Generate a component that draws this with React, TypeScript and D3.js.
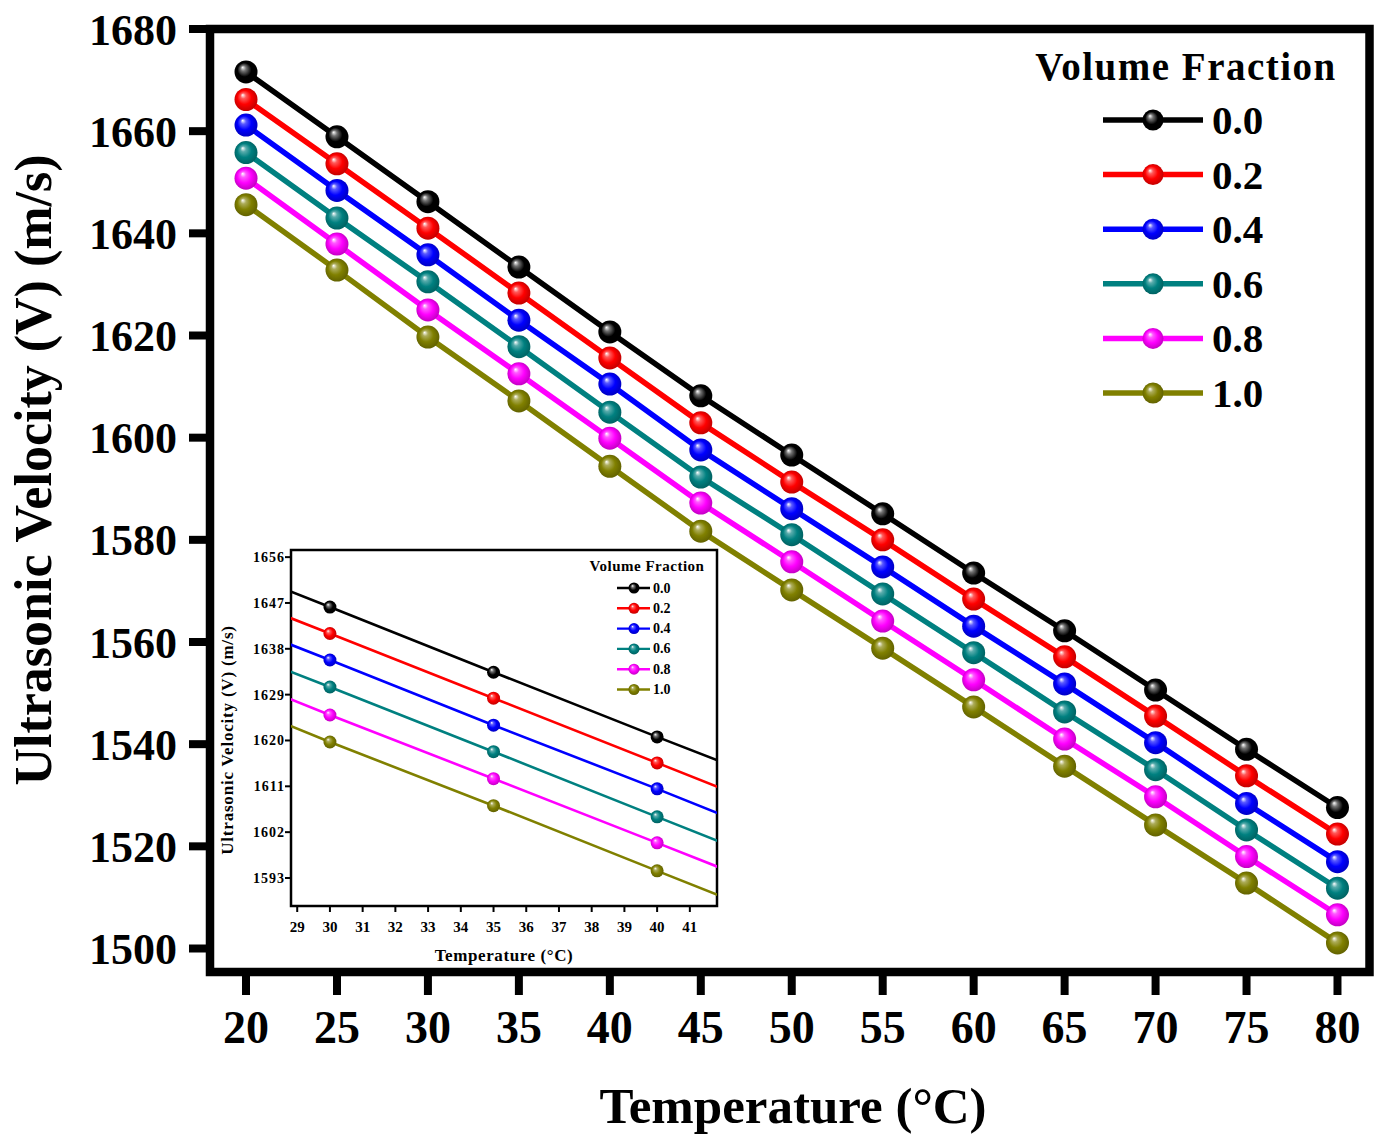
import React from "react";
import * as d3 from "d3";

const temperatures = [20, 25, 30, 35, 40, 45, 50, 55, 60, 65, 70, 75, 80];
const fractionLabels = ["0.0", "0.2", "0.4", "0.6", "0.8", "1.0"];
const seriesColors = ["#000000", "#ff0000", "#0000ff", "#008080", "#ff00ff", "#808000"];

const v00 = [1671.6, 1658.9, 1646.2, 1633.4, 1620.7, 1608.2, 1596.6, 1585.1, 1573.5, 1562.2, 1550.6, 1539.0, 1527.6];
const v02 = [1666.2, 1653.6, 1641.0, 1628.3, 1615.6, 1602.9, 1591.3, 1580.0, 1568.4, 1557.1, 1545.5, 1533.8, 1522.4];
const v04 = [1661.2, 1648.4, 1635.8, 1623.0, 1610.5, 1597.6, 1586.1, 1574.7, 1563.1, 1551.8, 1540.3, 1528.4, 1517.0];
const v06 = [1655.8, 1643.0, 1630.5, 1617.8, 1605.0, 1592.3, 1581.0, 1569.4, 1557.9, 1546.3, 1535.0, 1523.2, 1511.8];
const v08 = [1650.8, 1637.9, 1625.0, 1612.5, 1599.9, 1587.2, 1575.7, 1564.1, 1552.6, 1541.0, 1529.7, 1518.0, 1506.6];
const v10 = [1645.6, 1632.8, 1619.7, 1607.2, 1594.4, 1581.7, 1570.2, 1558.8, 1547.3, 1535.7, 1524.2, 1512.8, 1501.1];
const seriesValues = [v00, v02, v04, v06, v08, v10];

const xTicks = [20, 25, 30, 35, 40, 45, 50, 55, 60, 65, 70, 75, 80];
const yTicks = [1500, 1520, 1540, 1560, 1580, 1600, 1620, 1640, 1660, 1680];
const insetXTicks = [29, 30, 31, 32, 33, 34, 35, 36, 37, 38, 39, 40, 41];
const insetYTicks = [1593, 1602, 1611, 1620, 1629, 1638, 1647, 1656];

const FONT = "'Liberation Serif', 'Times New Roman', serif";

export default function App() {
  // main plot
  const left = 210, right = 1369.5, top = 29, bottom = 972;
  const x = d3.scaleLinear().domain([18.02, 81.76]).range([left, right]);
  const y = d3.scaleLinear().domain([1495.4, 1680]).range([bottom, top]);

  // inset
  const iL = 291, iR = 717, iT = 550, iB = 906;
  const ix = d3.scaleLinear().domain([28.81, 41.83]).range([iL, iR]);
  const iy = d3.scaleLinear().domain([1587.5, 1657.4]).range([iB, iT]);

  const data = seriesValues.map((vals) => temperatures.map((t, i) => ({ t, v: vals[i] })));
  const line = d3.line<{ t: number; v: number }>().x((d) => x(d.t)).y((d) => y(d.v));
  const iline = d3.line<{ t: number; v: number }>().x((d) => ix(d.t)).y((d) => iy(d.v));
  const [ixMin, ixMax] = ix.domain();

  const legendRowY = (i: number) => 120 + i * 54.6;
  const iLegendRowY = (i: number) => 588 + i * 20.3;

  return (
    <svg
      width={1377}
      height={1136}
      style={{ position: "absolute", left: 0, top: 0, background: "#fff" }}
      fontFamily={FONT}
    >
      <defs>
        {seriesColors.map((c, i) => (
          <radialGradient key={i} id={`ball${i}`} cx="50%" cy="50%" r="55%" fx="35%" fy="30%">
            <stop offset="0%" stopColor="#ffffff" />
            <stop offset="22%" stopColor={d3.interpolateRgb(c, "#ffffff")(i === 0 ? 0.45 : 0.35) as string} />
            <stop offset="55%" stopColor={c} />
            <stop offset="100%" stopColor={d3.color(c)!.darker(i === 0 ? 0 : 0.9).toString()} />
          </radialGradient>
        ))}
        <clipPath id="mainClip">
          <rect x={left} y={top} width={right - left} height={bottom - top} />
        </clipPath>
        <clipPath id="insetClip">
          <rect x={iL} y={iT} width={iR - iL} height={iB - iT} />
        </clipPath>
      </defs>
      <rect x={0} y={0} width={1377} height={1136} fill="#fff" />

      {/* main series */}
      <g clipPath="url(#mainClip)">
        {data.map((d, i) => (
          <path key={i} d={line(d) || ""} fill="none" stroke={seriesColors[i]} strokeWidth={5.5} />
        ))}
        {data.map((d, i) =>
          d.map((p, j) => (
            <circle key={`${i}-${j}`} cx={x(p.t)} cy={y(p.v)} r={11.5} fill={`url(#ball${i})`} />
          ))
        )}
      </g>

      {/* main legend */}
      <text x={1186} y={80} textAnchor="middle" fontSize={39} fontWeight="bold" letterSpacing={1.5}>
        Volume Fraction
      </text>
      {fractionLabels.map((lab, i) => (
        <g key={lab}>
          <line x1={1103} x2={1203} y1={legendRowY(i)} y2={legendRowY(i)} stroke={seriesColors[i]} strokeWidth={5.5} />
          <circle cx={1153} cy={legendRowY(i)} r={10.5} fill={`url(#ball${i})`} />
          <text x={1212} y={legendRowY(i) + 14} fontSize={41} fontWeight="bold">
            {lab}
          </text>
        </g>
      ))}

      {/* inset */}
      <rect x={iL} y={iT} width={iR - iL} height={iB - iT} fill="#fff" stroke="#000" strokeWidth={2.5} />
      <g clipPath="url(#insetClip)">
        {data.map((d, i) => (
          <path key={i} d={iline(d) || ""} fill="none" stroke={seriesColors[i]} strokeWidth={2.6} />
        ))}
        {data.map((d, i) =>
          d
            .filter((p) => p.t >= ixMin && p.t <= ixMax)
            .map((p, j) => (
              <circle key={`${i}-${j}`} cx={ix(p.t)} cy={iy(p.v)} r={6.5} fill={`url(#ball${i})`} />
            ))
        )}
      </g>
      {insetYTicks.map((t) => (
        <g key={t}>
          <line x1={iL - 6} x2={iL} y1={iy(t)} y2={iy(t)} stroke="#000" strokeWidth={2} />
          <text x={iL - 6} y={iy(t) + 5} textAnchor="end" fontSize={14} fontWeight="bold" letterSpacing={1}>
            {t}
          </text>
        </g>
      ))}
      {insetXTicks.map((t) => (
        <g key={t}>
          <line x1={ix(t)} x2={ix(t)} y1={iB} y2={iB + 6} stroke="#000" strokeWidth={2} />
          <text x={ix(t)} y={932} textAnchor="middle" fontSize={15} fontWeight="bold">
            {t}
          </text>
        </g>
      ))}
      <text x={(iL + iR) / 2} y={961} textAnchor="middle" fontSize={17} fontWeight="bold" letterSpacing={0.6}>
        Temperature (°C)
      </text>
      <text
        transform={`translate(233, ${(iT + iB) / 2 + 12}) rotate(-90)`}
        textAnchor="middle"
        fontSize={17}
        fontWeight="bold"
        letterSpacing={0.8}
      >
        Ultrasonic Velocity (V) (m/s)
      </text>
      <text x={647} y={571} textAnchor="middle" fontSize={15} fontWeight="bold" letterSpacing={0.5}>
        Volume Fraction
      </text>
      {fractionLabels.map((lab, i) => (
        <g key={lab}>
          <line x1={617} x2={650} y1={iLegendRowY(i)} y2={iLegendRowY(i)} stroke={seriesColors[i]} strokeWidth={2.4} />
          <circle cx={634} cy={iLegendRowY(i)} r={5.5} fill={`url(#ball${i})`} />
          <text x={653} y={iLegendRowY(i) + 4.5} fontSize={14} fontWeight="bold">
            {lab}
          </text>
        </g>
      ))}

      {/* main frame and axes */}
      <rect x={left} y={top} width={right - left} height={bottom - top} fill="none" stroke="#000" strokeWidth={8.5} />
      {yTicks.map((t) => (
        <g key={t}>
          <line x1={189} x2={left} y1={y(t)} y2={y(t)} stroke="#000" strokeWidth={8} />
          <text x={177} y={y(t) + 15.5} textAnchor="end" fontSize={44} fontWeight="bold">
            {t}
          </text>
        </g>
      ))}
      {xTicks.map((t) => (
        <g key={t}>
          <line x1={x(t)} x2={x(t)} y1={bottom} y2={995} stroke="#000" strokeWidth={8} />
          <text x={x(t)} y={1043} textAnchor="middle" fontSize={46} fontWeight="bold">
            {t}
          </text>
        </g>
      ))}
      <text x={793} y={1123} textAnchor="middle" fontSize={51} fontWeight="bold">
        Temperature (°C)
      </text>
      <text
        transform={`translate(51, 470) rotate(-90)`}
        textAnchor="middle"
        fontSize={52}
        fontWeight="bold"
      >
        Ultrasonic Velocity (V) (m/s)
      </text>
    </svg>
  );
}
